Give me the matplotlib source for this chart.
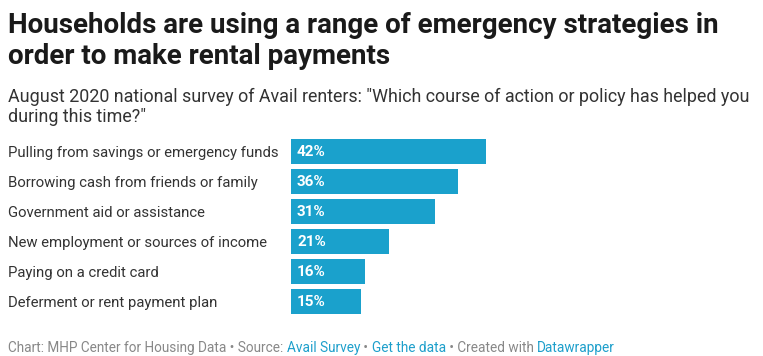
import matplotlib.pyplot as plt

plt.rcParams['font.family'] = ['Roboto', 'DejaVu Sans']

categories = [
    "Pulling from savings or emergency funds",
    "Borrowing cash from friends or family",
    "Government aid or assistance",
    "New employment or sources of income",
    "Paying on a credit card",
    "Deferment or rent payment plan",
]
values = [42, 36, 31, 21, 16, 15]

title_lines = ["Households are using a range of emergency strategies in",
               "order to make rental payments"]
subtitle_lines = ["August 2020 national survey of Avail renters: \"Which course of action or policy has helped you",
                  "during this time?\""]
footer_parts = [
    ("Chart: MHP Center for Housing Data \u2022 Source: ", "#888888"),
    ("Avail Survey", "#1d9fcb"),
    (" \u2022 ", "#888888"),
    ("Get the data", "#1d9fcb"),
    (" \u2022 Created with ", "#888888"),
    ("Datawrapper", "#1d9fcb"),
]

W, H = 763, 356
fig = plt.figure(figsize=(W / 100, H / 100), dpi=100)
fig.patch.set_facecolor("white")

# axes in pixel coords: bars start at x=291, the 42% bar ends at x=486
ax = fig.add_axes([291 / W, 1 - 316.3 / H, 195 / W, 180 / H])
ypos = list(range(len(values)))
ax.barh(ypos, values, height=0.83, color="#1aa1cc")
ax.set_xlim(0, 42)
ax.set_ylim(len(values) - 0.5, -0.5)
ax.axis("off")

for y, v, c in zip(ypos, values, categories):
    ax.annotate(f"{v}%", xy=(0, y), xytext=(6, -1), textcoords="offset pixels",
                color="white", fontweight="bold", fontsize=11,
                va="center", ha="left")
    ax.annotate(c, xy=(0, y), xycoords=("figure pixels", "data"),
                xytext=(8, -1.5), textcoords="offset pixels",
                color="#333333", fontsize=10.7, va="center", ha="left")

for i, line in enumerate(title_lines):
    fig.text(8 / W, 1 - (33 + 31 * i) / H, line, fontsize=20,
             fontweight="bold", color="#1a1a1a", va="baseline", ha="left")
for i, line in enumerate(subtitle_lines):
    fig.text(8 / W, 1 - (102 + 20 * i) / H, line, fontsize=12.9,
             color="#333333", va="baseline", ha="left")

# footer: chain pieces so each starts where the previous one ends
prev = fig.text(8 / W, 1 - 352 / H, footer_parts[0][0], fontsize=9.8,
                color=footer_parts[0][1], va="baseline", ha="left")
for txt, col in footer_parts[1:]:
    prev = fig.add_artist(plt.Annotation(txt, xy=(1, 0), xycoords=prev,
                                         va="bottom", ha="left",
                                         fontsize=9.8, color=col))

fig.savefig("out.png", dpi=100)
